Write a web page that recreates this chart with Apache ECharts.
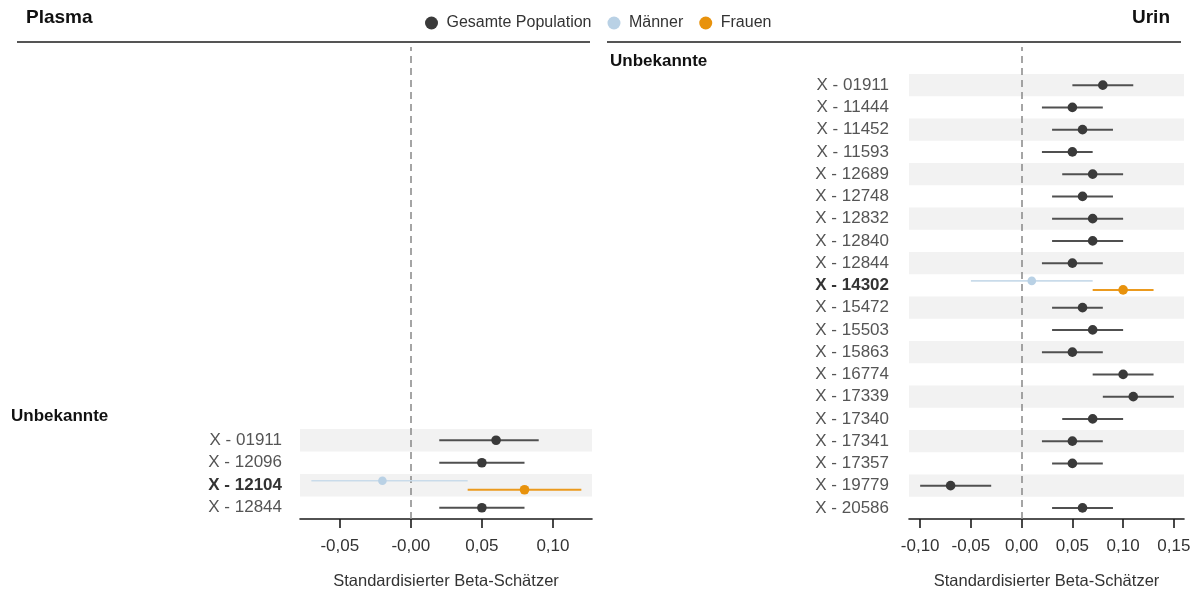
<!DOCTYPE html>
<html>
<head>
<meta charset="utf-8">
<script src="https://cdn.jsdelivr.net/npm/echarts@6/dist/echarts.min.js"></script>
<style>
html,body{margin:0;padding:0;background:#fff;}
#chart{width:1199px;height:592px;}
</style>
</head>
<body>
<div id="chart"></div>
<script>
// ---------- DATA ----------
const legendNames = ['Gesamte Population', 'Männer', 'Frauen'];
const groupLabel = 'Unbekannte';
const axisTitle = 'Standardisierter Beta-Schätzer';
const boldRows = ['X - 12104', 'X - 14302'];

// Plasma
const plasmaCategories = ['X - 01911', 'X - 12096', 'X - 12104', 'X - 12844'];
const plasmaEst = [0.06, 0.05, null, 0.05];
const plasmaLo  = [0.02, 0.02, null, 0.02];
const plasmaHi  = [0.09, 0.08, null, 0.08];
const plasmaMen   = { row: 'X - 12104', est: -0.02, lo: -0.07, hi: 0.04 };
const plasmaWomen = { row: 'X - 12104', est: 0.08, lo: 0.04, hi: 0.12 };
const plasmaTicks = [-0.05, 0, 0.05, 0.10];
const plasmaTickLabels = ['-0,05', '-0,00', '0,05', '0,10'];

// Urin
const urinCategories = ['X - 01911','X - 11444','X - 11452','X - 11593','X - 12689','X - 12748','X - 12832','X - 12840','X - 12844','X - 14302','X - 15472','X - 15503','X - 15863','X - 16774','X - 17339','X - 17340','X - 17341','X - 17357','X - 19779','X - 20586'];
const urinEst = [0.08,0.05,0.06,0.05,0.07,0.06,0.07,0.07,0.05,null,0.06,0.07,0.05,0.10,0.11,0.07,0.05,0.05,-0.07,0.06];
const urinLo  = [0.05,0.02,0.03,0.02,0.04,0.03,0.03,0.03,0.02,null,0.03,0.03,0.02,0.07,0.08,0.04,0.02,0.03,-0.10,0.03];
const urinHi  = [0.11,0.08,0.09,0.07,0.10,0.09,0.10,0.10,0.08,null,0.08,0.10,0.08,0.13,0.15,0.10,0.08,0.08,-0.03,0.09];
const urinMen   = { row: 'X - 14302', est: 0.01, lo: -0.05, hi: 0.07 };
const urinWomen = { row: 'X - 14302', est: 0.10, lo: 0.07, hi: 0.13 };
const urinTicks = [-0.10, -0.05, 0, 0.05, 0.10, 0.15];
const urinTickLabels = ['-0,10', '-0,05', '0,00', '0,05', '0,10', '0,15'];

// ---------- STYLE ----------
const FONT = '"Liberation Sans", Arial, sans-serif';
const C_ALL = '#3a3a3a', C_ALL_LINE = '#505050';
const C_MEN = '#b9d1e5', C_MEN_LINE = '#c9dbea';
const C_WOMEN = '#e8920c', C_WOMEN_LINE = '#eb9a1e';

function rows(cats, est, lo, hi) {
  const out = [];
  cats.forEach((c, i) => { if (est[i] !== null) out.push([i, est[i], lo[i], hi[i]]); });
  return out;
}
function single(cats, o) { return [[cats.indexOf(o.row), o.est, o.lo, o.hi]]; }

function makeRender(offset, lineColor, dotColor, lineW, r) {
  return function (params, api) {
    const cat = api.value(0);
    const p = api.coord([api.value(1), cat]);
    const a = api.coord([api.value(2), cat]);
    const b = api.coord([api.value(3), cat]);
    const y = p[1] + offset;
    return {
      type: 'group',
      children: [
        { type: 'line', shape: { x1: a[0], y1: y, x2: b[0], y2: y },
          style: { stroke: lineColor, lineWidth: lineW } },
        { type: 'circle', shape: { cx: p[0], cy: y, r: r },
          style: { fill: dotColor } }
      ]
    };
  };
}

function errSeries(name, gi, data, offset, lc, dc, lw, r) {
  return {
    type: 'custom', name: name, xAxisIndex: gi, yAxisIndex: gi,
    coordinateSystem: 'cartesian2d', data: data, z: 5,
    encode: { x: [1, 2, 3], y: 0 },
    itemStyle: { color: dc },
    renderItem: makeRender(offset, lc, dc, lw, r),
    silent: true, animation: false
  };
}

function xAxisCfg(gi, min, max, ticks, labels) {
  return {
    type: 'value', gridIndex: gi, min: min, max: max,
    splitLine: { show: false },
    axisLine: { show: true, onZero: false, lineStyle: { color: '#1a1a1a', width: 1.6 } },
    axisTick: { show: true, customValues: ticks, length: 9, lineStyle: { color: '#1a1a1a', width: 1.6 } },
    axisLabel: {
      customValues: ticks, margin: 19, fontSize: 17, color: '#333', fontFamily: FONT,
      formatter: v => { const i = ticks.findIndex(t => Math.abs(t - v) < 1e-9); return i >= 0 ? labels[i] : ''; }
    },
    name: axisTitle, nameLocation: 'middle', nameGap: 54,
    nameTextStyle: { fontSize: 16.5, color: '#333', fontFamily: FONT }
  };
}

function yAxisCfg(gi, cats, margin) {
  return {
    type: 'category', gridIndex: gi, data: cats, inverse: true,
    axisLine: { show: false }, axisTick: { show: false },
    splitLine: { show: false },
    splitArea: { show: true, areaStyle: { color: ['#f2f2f2', 'rgba(255,255,255,0)'] } },
    axisLabel: {
      margin: margin, fontSize: 17, color: '#555', fontFamily: FONT,
      formatter: v => boldRows.includes(v) ? '{b|' + v + '}' : v,
      rich: { b: { fontWeight: 'bold', color: '#333', fontSize: 17, fontFamily: FONT } }
    }
  };
}

const PL = { min: -0.078, max: 0.1275 };
const UR = { min: -0.111, max: 0.160 };

const option = {
  animation: false,
  backgroundColor: '#fff',
  textStyle: { fontFamily: FONT },
  grid: [
    { left: 300, width: 292, top: 429, height: 90, outerBoundsMode: 'none', containLabel: false },
    { left: 909, width: 275, top: 74, height: 445, outerBoundsMode: 'none', containLabel: false },
    { left: 300, width: 292, top: 47, height: 472, outerBoundsMode: 'none', containLabel: false },
    { left: 909, width: 275, top: 47, height: 472, outerBoundsMode: 'none', containLabel: false }
  ],
  xAxis: [
    xAxisCfg(0, PL.min, PL.max, plasmaTicks, plasmaTickLabels),
    xAxisCfg(1, UR.min, UR.max, urinTicks, urinTickLabels),
    { type: 'value', gridIndex: 2, min: PL.min, max: PL.max, show: false },
    { type: 'value', gridIndex: 3, min: UR.min, max: UR.max, show: false }
  ],
  yAxis: [
    yAxisCfg(0, plasmaCategories, 18),
    yAxisCfg(1, urinCategories, 20),
    { type: 'value', gridIndex: 2, min: 0, max: 1, show: false },
    { type: 'value', gridIndex: 3, min: 0, max: 1, show: false }
  ],
  legend: {
    data: legendNames, left: 420, top: 10, icon: 'circle',
    itemWidth: 20, itemHeight: 13, itemGap: 16,
    textStyle: { fontSize: 16, color: '#333', fontFamily: FONT },
    selectedMode: false
  },
  graphic: [
    { type: 'text', left: 26, top: 8, style: { text: 'Plasma', font: 'bold 19px ' + FONT, fill: '#111' } },
    { type: 'text', right: 29, top: 8, style: { text: 'Urin', font: 'bold 19px ' + FONT, fill: '#111' } },
    { type: 'line', shape: { x1: 17, y1: 42, x2: 590, y2: 42 }, style: { stroke: '#555', lineWidth: 2.2 } },
    { type: 'line', shape: { x1: 607, y1: 42, x2: 1181, y2: 42 }, style: { stroke: '#555', lineWidth: 2.2 } },
    { type: 'text', left: 11, top: 408, style: { text: groupLabel, font: 'bold 17px ' + FONT, fill: '#111' } },
    { type: 'text', left: 610, top: 53, style: { text: groupLabel, font: 'bold 17px ' + FONT, fill: '#111' } }
  ],
  series: [
    { type: 'line', xAxisIndex: 2, yAxisIndex: 2, data: [], silent: true, z: 3,
      markLine: { silent: true, symbol: 'none', label: { show: false },
        lineStyle: { color: '#888', width: 1.5, type: [7, 5] }, data: [{ xAxis: 0 }] } },
    { type: 'line', xAxisIndex: 3, yAxisIndex: 3, data: [], silent: true, z: 3,
      markLine: { silent: true, symbol: 'none', label: { show: false },
        lineStyle: { color: '#888', width: 1.5, type: [7, 5] }, data: [{ xAxis: 0 }] } },
    errSeries(legendNames[0], 0, rows(plasmaCategories, plasmaEst, plasmaLo, plasmaHi), 0, C_ALL_LINE, C_ALL, 2, 4.8),
    errSeries(legendNames[1], 0, single(plasmaCategories, plasmaMen), -4.5, C_MEN_LINE, C_MEN, 1.6, 4.3),
    errSeries(legendNames[2], 0, single(plasmaCategories, plasmaWomen), 4.5, C_WOMEN_LINE, C_WOMEN, 2, 4.8),
    errSeries(legendNames[0], 1, rows(urinCategories, urinEst, urinLo, urinHi), 0, C_ALL_LINE, C_ALL, 2, 4.8),
    errSeries(legendNames[1], 1, single(urinCategories, urinMen), -4.5, C_MEN_LINE, C_MEN, 1.6, 4.3),
    errSeries(legendNames[2], 1, single(urinCategories, urinWomen), 4.5, C_WOMEN_LINE, C_WOMEN, 2, 4.8)
  ]
};

const chart = echarts.init(document.getElementById('chart'), null, { renderer: 'canvas' });
chart.setOption(option);
</script>
</body>
</html>
